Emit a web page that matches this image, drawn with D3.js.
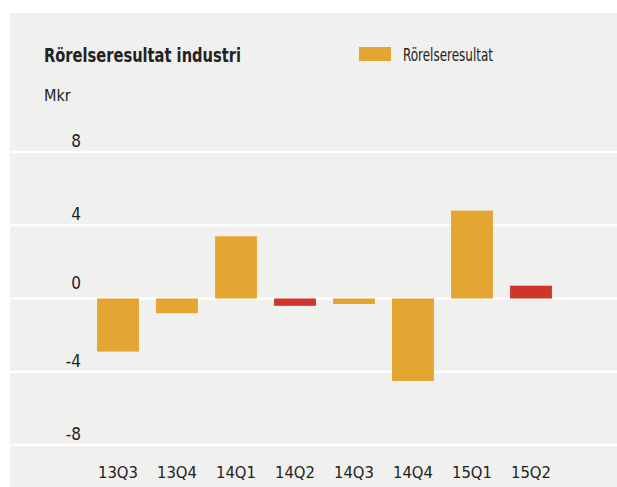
<!DOCTYPE html>
<html>
<head>
<meta charset="utf-8">
<script src="https://cdn.jsdelivr.net/npm/d3@7"></script>
<style>
  body { margin: 0; background: #fff; }
  text { font-family: "Liberation Sans Narrow", "DejaVu Sans Condensed", "Open Sans", sans-serif; fill: #222; }
</style>
</head>
<body>
<div id="chart"></div>
<script>
// Data
const quarters = ['13Q3', '13Q4', '14Q1', '14Q2', '14Q3', '14Q4', '15Q1', '15Q2'];
const values = [-2.9, -0.8, 3.4, -0.4, -0.3, -4.5, 4.8, 0.7];
const highlighted = ['14Q2', '15Q2'];
const yTicks = [8, 4, 0, -4, -8];

const width = 617;
const height = 487;

const svg = d3.select('#chart')
    .append('svg')
    .attr('width', width)
    .attr('height', height);

// Gray panel
svg.append('rect')
    .attr('x', 10)
    .attr('y', 13)
    .attr('width', width - 10)
    .attr('height', height - 13)
    .attr('fill', '#f0f0ee');

// Scales
const xScale = d3.scaleBand()
    .domain(quarters)
    .range([88.5, 560.5])
    .paddingInner(0.29)
    .paddingOuter(0.145);

const yScale = d3.scaleLinear()
    .domain([-8, 8])
    .range([445, 152]);

// Gridlines
svg.append('g')
    .selectAll('line')
    .data(yTicks)
    .enter()
    .append('line')
    .attr('x1', 10)
    .attr('x2', width)
    .attr('y1', d => yScale(d))
    .attr('y2', d => yScale(d))
    .attr('stroke', '#fff')
    .attr('stroke-width', 2.5);

// Y labels sit above their gridlines
svg.append('g')
    .selectAll('text')
    .data(yTicks)
    .enter()
    .append('text')
    .attr('x', 81)
    .attr('y', d => yScale(d) - (d === 0 ? 15 : 11))
    .attr('dy', '0.35em')
    .attr('text-anchor', 'end')
    .style('font-size', '17px')
    .text(d => d);

// Bars
svg.append('g')
    .selectAll('rect')
    .data(quarters)
    .enter()
    .append('rect')
    .attr('x', d => xScale(d))
    .attr('width', xScale.bandwidth())
    .attr('y', (d, i) => yScale(Math.max(0, values[i])))
    .attr('height', (d, i) => Math.abs(yScale(values[i]) - yScale(0)))
    .attr('fill', d => highlighted.includes(d) ? '#d0352b' : '#e5a532');

// X labels
svg.append('g')
    .selectAll('text')
    .data(quarters)
    .enter()
    .append('text')
    .attr('x', d => xScale(d) + xScale.bandwidth() / 2)
    .attr('y', 472)
    .attr('dy', '0.35em')
    .attr('text-anchor', 'middle')
    .style('font-size', '16.5px')
    .text(d => d);

// Title and unit
svg.append('text')
    .attr('x', 44)
    .attr('y', 62)
    .attr('textLength', 197)
    .attr('lengthAdjust', 'spacingAndGlyphs')
    .style('font-size', '20px')
    .style('font-weight', 'bold')
    .text('Rörelseresultat industri');

svg.append('text')
    .attr('x', 44)
    .attr('y', 101)
    .style('font-size', '16px')
    .text('Mkr');

// Legend
svg.append('rect')
    .attr('x', 359)
    .attr('y', 47)
    .attr('width', 32)
    .attr('height', 14)
    .attr('fill', '#e5a532');

svg.append('text')
    .attr('x', 403)
    .attr('y', 61)
    .attr('textLength', 90)
    .attr('lengthAdjust', 'spacingAndGlyphs')
    .style('font-size', '17px')
    .text('Rörelseresultat');
</script>
</body>
</html>
